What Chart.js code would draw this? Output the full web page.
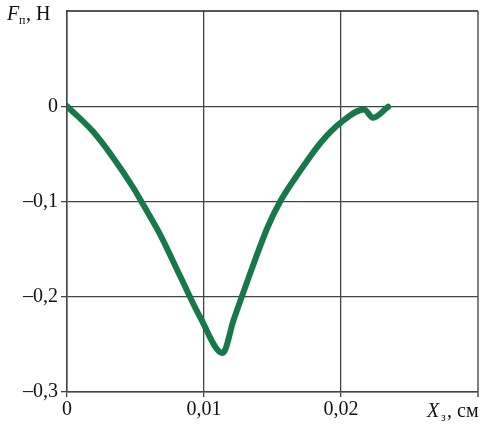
<!DOCTYPE html>
<html>
<head>
<meta charset="utf-8">
<script src="https://cdn.jsdelivr.net/npm/chart.js@4"></script>
<style>
  html, body { margin: 0; padding: 0; background: #fff; }
  #wrap { width: 490px; height: 426px; }
</style>
</head>
<body>
<div id="wrap"><canvas id="c" width="490" height="426"></canvas></div>
<script>
// displacement X_з, cm
const xValues = [0, 0.0019, 0.00337, 0.00484, 0.00557, 0.00681, 0.00828, 0.00974, 0.01136,
  0.01216, 0.01319, 0.01465, 0.0156, 0.01707, 0.01853, 0.0200, 0.02168, 0.02234, 0.02344];
// force F_п, N
const yValues = [0, -0.0266, -0.054, -0.0856, -0.1035, -0.135, -0.179, -0.222, -0.259,
  -0.2245, -0.1826, -0.1268, -0.099, -0.0667, -0.038, -0.017, -0.0035, -0.012, -0.0005];
const xTicks = [0, 0.01, 0.02];
const yTicks = [0, -0.1, -0.2, -0.3];
const xMax = 0.03;
const yMax = 0.1;

const serif = '"Liberation Serif", "DejaVu Serif", serif';

function fmtX(v) {
  return v === 0 ? '0' : v.toFixed(2).replace('.', ',');
}
function fmtY(v) {
  v = Math.round(v * 10) / 10;
  if (v === 0) return '0';
  return '\u2013' + Math.abs(v).toFixed(1).replace('.', ',');
}

const frameAndTitles = {
  id: 'frameAndTitles',
  beforeDatasetsDraw(chart) {
    const ctx = chart.ctx;
    const a = chart.chartArea;
    ctx.save();
    ctx.strokeStyle = '#222';
    ctx.lineWidth = 1.5;
    ctx.beginPath();
    ctx.moveTo(a.left, a.top);
    ctx.lineTo(a.right, a.top);
    ctx.stroke();
    ctx.strokeStyle = '#555';
    ctx.beginPath();
    ctx.moveTo(a.right, a.top);
    ctx.lineTo(a.right, a.bottom + 5);
    ctx.stroke();
    ctx.restore();
  },
  afterDraw(chart) {
    const ctx = chart.ctx;
    ctx.save();
    ctx.fillStyle = '#111';
    ctx.textBaseline = 'alphabetic';
    // y title: F_п, Н
    ctx.font = 'italic 20px ' + serif;
    ctx.fillText('F', 7, 20);
    ctx.font = '12px ' + serif;
    ctx.fillText('п', 19, 24);
    ctx.font = '20px ' + serif;
    ctx.fillText(', Н', 26, 20);
    // x title: X_з, см
    ctx.font = 'italic 20px ' + serif;
    ctx.fillText('X', 427, 417);
    ctx.font = '12px ' + serif;
    ctx.fillText('з', 441, 421);
    ctx.font = '20px ' + serif;
    ctx.fillText(', см', 447, 417);
    ctx.restore();
  }
};

new Chart(document.getElementById('c'), {
  type: 'line',
  data: {
    datasets: [{
      data: xValues.map((x, i) => ({ x: x, y: yValues[i] })),
      borderColor: '#17784a',
      borderWidth: 6,
      pointRadius: 0,
      cubicInterpolationMode: 'monotone',
      borderCapStyle: 'round',
      borderJoinStyle: 'round',
      fill: false
    }]
  },
  options: {
    responsive: false,
    animation: false,
    layout: { padding: { top: 11, right: 12, left: 0, bottom: 0 } },
    plugins: { legend: { display: false }, tooltip: { enabled: false } },
    scales: {
      x: {
        type: 'linear',
        min: 0,
        max: xMax,
        afterBuildTicks: s => { s.ticks = xTicks.map(v => ({ value: v })); },
        afterFit: s => { s.height = 34; },
        grid: { color: '#444', lineWidth: 1.3, tickLength: 5, tickColor: '#444' },
        border: { color: '#444', width: 1.5 },
        ticks: {
          callback: fmtX,
          color: '#111',
          padding: 1,
          maxRotation: 0,
          font: { family: serif, size: 20 }
        }
      },
      y: {
        type: 'linear',
        min: -0.3,
        max: yMax,
        afterBuildTicks: s => { s.ticks = yTicks.map(v => ({ value: v })); },
        afterFit: s => { s.width = 67; },
        grid: { color: '#444', lineWidth: 1.3, tickLength: 6, tickColor: '#444' },
        border: { color: '#444', width: 1.5 },
        ticks: {
          callback: fmtY,
          color: '#111',
          padding: 3,
          font: { family: serif, size: 20, lineHeight: 0.8 }
        }
      }
    }
  },
  plugins: [frameAndTitles]
});
</script>
</body>
</html>
